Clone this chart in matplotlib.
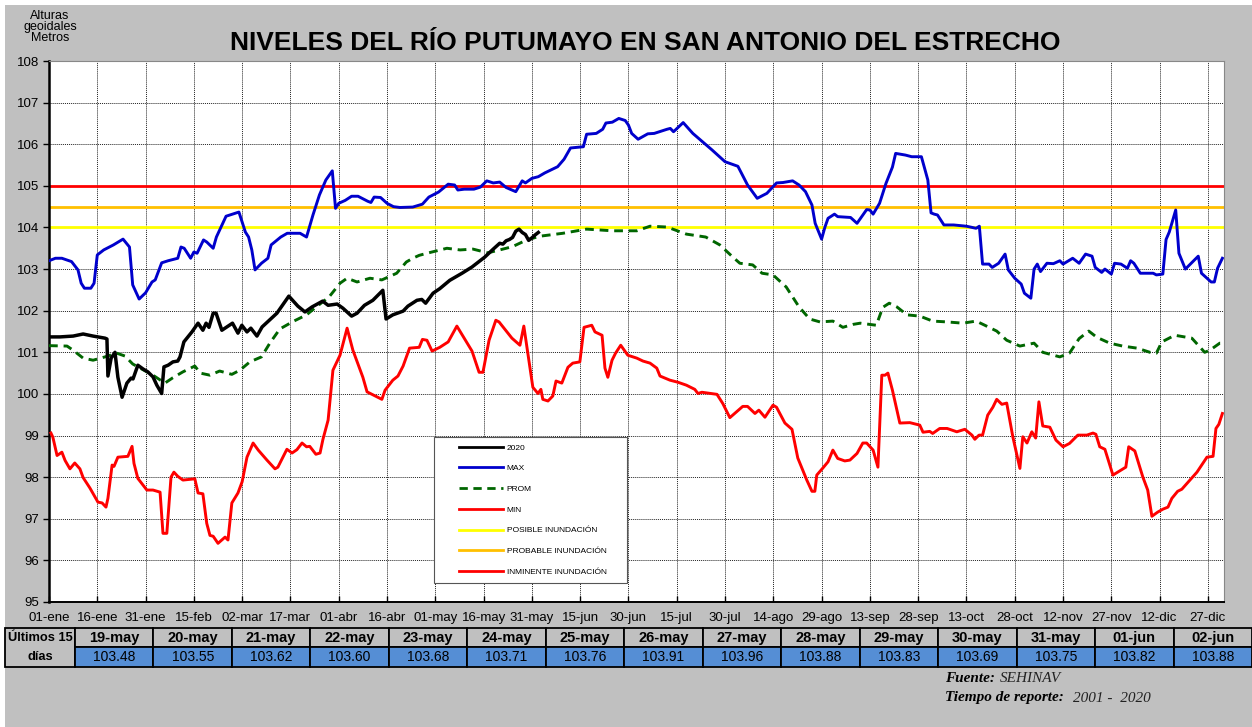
import matplotlib
matplotlib.use("Agg")
import matplotlib.pyplot as plt
from matplotlib.patches import Rectangle
from matplotlib.lines import Line2D

plt.rcParams['font.family'] = ['Liberation Sans', 'DejaVu Sans']

# --- datos (dia del año, 0 = 01-ene) ---
dias_2020 = [0, 3.4, 7.5, 10.6, 13.7, 17.4, 18, 18.3, 19.3, 20.5, 21.4, 22.7, 24.2, 25.5, 26.1,
             27.6, 29.2, 30.7, 32.3, 33.5, 35, 35.7, 37, 38.5, 40, 40.7, 41.9, 44.4, 46.3, 47.8,
             48.8, 49.7, 51, 51.9, 53.7, 57, 58.7, 59.9, 61.5, 62.7, 64.6, 66.2, 70.8, 74.5, 77.3,
             79.5, 81.7, 85, 86.7, 89.5, 91.3, 94, 95.7, 98, 100.6, 103.7, 104.7, 106.8, 110, 111.5,
             114.3, 115.8, 117, 119.3, 121.4, 124.5, 128.3, 131.4, 133.9, 135.4,
             138, 139, 140, 141, 142, 143, 144, 145, 146, 147, 148, 149, 150, 151, 152]
niv_2020 = [101.37, 101.37, 101.39, 101.44, 101.39, 101.34, 101.32, 100.43, 100.86, 101.0, 100.40,
            99.92, 100.26, 100.38, 100.36, 100.69, 100.60, 100.53, 100.41, 100.21, 100.01, 100.65,
            100.69, 100.77, 100.79, 100.89, 101.25, 101.49, 101.70, 101.53, 101.70, 101.60, 101.94,
            101.94, 101.53, 101.70, 101.46, 101.65, 101.49, 101.58, 101.39, 101.61, 101.94, 102.35,
            102.11, 101.97, 102.09, 102.23, 102.13, 102.16, 102.06, 101.87, 101.94, 102.13, 102.25,
            102.49, 101.80, 101.90, 101.99, 102.11, 102.25, 102.27, 102.18, 102.42, 102.53, 102.73,
            102.90, 103.05, 103.20, 103.29,
            103.48, 103.55, 103.62, 103.60, 103.68, 103.71, 103.76, 103.91, 103.96, 103.88, 103.83,
            103.69, 103.75, 103.82, 103.88]

dias_max = [0, 2, 4, 7, 9, 10, 11, 13, 14, 15, 17, 20, 23, 25, 26, 28, 30, 32, 33, 35, 37, 40, 41,
            42, 44, 45, 46, 48, 49, 51, 52, 55, 59, 61, 62, 63, 64, 66, 68, 69, 72, 74, 78, 80, 82,
            83, 84, 86, 88, 89, 90, 92, 94, 96, 99, 100, 101, 103, 105, 107, 109, 113, 116, 118,
            121, 124, 126, 127, 129, 132, 134, 136, 138, 140, 142, 145, 147, 148, 150, 152, 154,
            158, 160, 162, 166, 167, 170, 172, 173, 175, 177, 179, 180, 181, 183, 186, 188, 192,
            193, 194, 197, 200, 206, 210, 214, 217, 220, 223, 226, 228, 231, 233, 235, 237, 238,
            240, 241, 242, 244, 245, 249, 251, 254, 255, 256, 258, 260, 262, 263, 266, 268, 271,
            273, 274, 275, 276, 278, 281, 285, 288, 289, 290, 292, 293, 295, 297, 298, 300, 302,
            303, 305, 306, 307, 308, 310, 312, 314, 315, 318, 320, 322, 324, 325, 327, 328, 330,
            331, 333, 335, 336, 337, 339, 343, 344, 346, 347, 348, 350, 351, 353, 357, 358, 361,
            362, 363, 364.5]
niv_max = [103.20, 103.26, 103.26, 103.18, 102.98, 102.66, 102.54, 102.54, 102.66, 103.34, 103.46,
           103.58, 103.72, 103.53, 102.62, 102.28, 102.43, 102.69, 102.74, 103.15, 103.20, 103.26,
           103.53, 103.50, 103.26, 103.41, 103.38, 103.70, 103.65, 103.50, 103.77, 104.27, 104.37,
           103.89, 103.77, 103.46, 102.98, 103.14, 103.26, 103.58, 103.77, 103.86, 103.86, 103.77,
           104.30, 104.54, 104.78, 105.14, 105.36, 104.46, 104.58, 104.65, 104.75, 104.75, 104.63,
           104.60, 104.73, 104.72, 104.58, 104.50, 104.48, 104.49, 104.56, 104.73, 104.85, 105.04,
           105.02, 104.90, 104.92, 104.92, 104.97, 105.12, 105.07, 105.09, 104.96, 104.86, 105.12,
           105.07, 105.18, 105.22, 105.31, 105.46, 105.64, 105.91, 105.94, 106.24, 106.26, 106.36,
           106.51, 106.53, 106.62, 106.57, 106.46, 106.26, 106.12, 106.25, 106.26, 106.36, 106.38,
           106.30, 106.52, 106.26, 105.86, 105.58, 105.47, 105.02, 104.70, 104.82, 105.07, 105.08,
           105.12, 105.02, 104.86, 104.54, 104.10, 103.72, 104.00, 104.22, 104.32, 104.26, 104.24,
           104.10, 104.43, 104.42, 104.32, 104.58, 105.06, 105.45, 105.78, 105.74, 105.70, 105.70,
           105.14, 104.35, 104.32, 104.30, 104.06, 104.06, 104.03, 103.98, 104.03, 103.12, 103.12,
           103.04, 103.14, 103.36, 102.98, 102.78, 102.64, 102.42, 102.30, 103.00, 103.12, 102.94,
           103.14, 103.13, 103.20, 103.12, 103.26, 103.14, 103.36, 103.31, 103.04, 102.92, 103.00,
           102.88, 103.14, 103.12, 103.02, 103.20, 103.14, 102.90, 102.90, 102.86, 102.88, 103.71,
           103.89, 104.42, 103.38, 103.00, 103.31, 102.90, 102.69, 102.69, 103.02, 103.26]

dias_prom = [0, 5.6, 7.5, 10.6, 13.7, 17.4, 21, 23.6, 26, 29, 32.3, 36, 38.5, 41.6, 45.3, 47, 50,
             53, 56.8, 59.3, 62.4, 66, 68.6, 71.7, 75.8, 80, 83, 87, 90.4, 92.6, 95.7, 99.7, 103.4,
             108, 111, 113, 115, 117.4, 123.6, 127.7, 131.7, 136.3, 140, 144, 148.4, 152.5, 159.6,
             167, 175, 182.6, 186.7, 192, 198, 204, 208.4, 212.4, 214.6, 218.6, 221.5, 224.9, 229,
             233, 236.3, 239.5, 243.5, 246.6, 249.7, 252, 255, 257, 259, 261, 263.4, 266.5, 270.5,
             274.5, 279, 283.9, 288, 290.7, 294.4, 297.5, 301.6, 306, 308.7, 314, 317, 320, 323,
             325.5, 329.5, 333.5, 338, 342, 344, 345.7, 349.7, 355, 359, 360.6, 363.7, 364.5]
niv_prom = [101.16, 101.15, 101.05, 100.86, 100.81, 100.89, 100.98, 100.91, 100.72, 100.59, 100.45,
            100.26, 100.39, 100.53, 100.67, 100.50, 100.45, 100.55, 100.47, 100.57, 100.77, 100.89,
            101.22, 101.56, 101.74, 101.90, 102.09, 102.33, 102.66, 102.78, 102.69, 102.78, 102.74,
            102.90, 103.17, 103.26, 103.33, 103.38, 103.50, 103.46, 103.48, 103.39, 103.46, 103.54,
            103.70, 103.79, 103.86, 103.96, 103.92, 103.92, 104.03, 104.01, 103.84, 103.77, 103.58,
            103.29, 103.14, 103.10, 102.90, 102.86, 102.57, 102.09, 101.80, 101.73, 101.75, 101.60,
            101.67, 101.70, 101.67, 101.65, 102.08, 102.18, 102.09, 101.90, 101.87, 101.75, 101.73,
            101.70, 101.75, 101.65, 101.51, 101.29, 101.15, 101.22, 101.00, 100.89, 100.98, 101.33,
            101.51, 101.36, 101.22, 101.15, 101.10, 101.00, 100.98, 101.25, 101.41, 101.34, 101.00,
            101.05, 101.22, 101.22]

dias_min = [0.6, 1.2, 2.5, 4, 5, 6.5, 8, 9.6, 10.6, 12.7, 15.2, 16.5, 17.7, 18.3, 19.6, 20.2, 21.4,
            24.5, 25.8, 26.4, 27.6, 30.4, 32.3, 34.5, 35.4, 36.6, 37.9, 38.8, 40, 41.6, 45.3, 46.3,
            47.8, 49, 50, 51, 52.5, 54.7, 55.6, 56.8, 58.7, 60, 61.5, 63.4, 65, 67.7, 70.2, 71.1,
            73.9, 75.5, 77, 78.6, 80, 81, 82.9, 84.2, 85.1, 86.7, 88.2, 90.4, 92.6, 94.4, 97.5,
            98.8, 103.4, 104.4, 106.8, 108.4, 110, 112, 115, 116, 117.4, 119, 121.4, 124, 126.7,
            131.4, 133.6, 134.8, 136.7, 138.8, 139.8, 143.8, 146.3, 147.5, 150.3, 151.9, 152.8,
            153.4, 155, 156.5, 157.5, 159.3, 161.2, 162.7, 164.9, 166.2, 168.6, 169.6, 171.8, 172.7,
            173.6, 174.9, 176, 177.6, 179.8, 182.6, 184.5, 186.7, 188.8, 189.8, 192.9, 195.4, 198,
            200.6, 201.6, 202.8, 207.5, 209.3, 211.5, 215.5, 217, 219.3, 220.5, 222.4, 224.9, 226,
            228.6, 230.8, 232.6, 235.4, 237, 237.9, 238.5, 240.4, 242, 243.5, 245, 247.2, 248.8,
            251, 252.8, 254, 256, 257.5, 258.7, 259.7, 260.6, 262, 264.3, 267.4, 270.5, 271.5,
            273.6, 274.5, 276.7, 279, 282, 284.5, 286.7, 287.6, 288.9, 290, 291.6, 293.2, 294.4,
            296, 297.5, 299.4, 301.6, 302.5, 303.8, 305.3, 306.5, 307.5, 308.7, 310.9, 312.8, 315,
            317, 319.6, 322.4, 324.3, 325.2, 326.4, 328, 330.5, 334.5, 335.4, 337.3, 339.8, 341.3,
            342.6, 344.4, 346, 347.6, 348.8, 350.6, 351.9, 354.4, 356.6, 359.7, 361.6, 362.5, 363.4,
            364.5]
niv_min = [99.06, 98.96, 98.52, 98.60, 98.40, 98.20, 98.34, 98.20, 97.99, 97.74, 97.40, 97.38,
           97.28, 97.49, 98.29, 98.26, 98.48, 98.50, 98.74, 98.33, 97.97, 97.69, 97.69, 97.64, 96.65,
           96.65, 98.00, 98.12, 98.02, 97.93, 97.96, 97.62, 97.60, 96.89, 96.60, 96.58, 96.41, 96.56,
           96.49, 97.38, 97.62, 97.89, 98.48, 98.82, 98.65, 98.41, 98.20, 98.24, 98.67, 98.58, 98.66,
           98.82, 98.73, 98.74, 98.55, 98.58, 98.91, 99.37, 100.57, 100.93, 101.58, 101.05, 100.40,
           100.05, 99.87, 100.09, 100.33, 100.43, 100.67, 101.10, 101.12, 101.31, 101.29, 101.03,
           101.12, 101.25, 101.63, 101.03, 100.52, 100.52, 101.29, 101.77, 101.73, 101.34, 101.17,
           101.63, 100.16, 100.01, 100.11, 99.87, 99.83, 99.95, 100.31, 100.26, 100.64, 100.74,
           100.77, 101.60, 101.65, 101.49, 101.41, 100.62, 100.40, 100.81, 100.98, 101.17, 100.93,
           100.86, 100.79, 100.74, 100.62, 100.43, 100.33, 100.28, 100.21, 100.11, 100.01, 100.04,
           99.99, 99.77, 99.43, 99.70, 99.70, 99.53, 99.61, 99.44, 99.73, 99.68, 99.30, 99.15, 98.46,
           97.93, 97.66, 97.66, 98.05, 98.22, 98.37, 98.65, 98.45, 98.39, 98.41, 98.57, 98.82, 98.82,
           98.65, 98.24, 100.45, 100.45, 100.50, 100.09, 99.30, 99.31, 99.25, 99.08, 99.10, 99.05,
           99.17, 99.17, 99.09, 99.15, 99.01, 98.91, 99.01, 99.01, 99.49, 99.68, 99.87, 99.75, 99.78,
           98.97, 98.21, 98.97, 98.82, 99.09, 98.94, 99.81, 99.23, 99.20, 98.89, 98.73, 98.81, 99.01,
           99.01, 99.06, 99.03, 98.73, 98.67, 98.05, 98.24, 98.73, 98.63, 98.00, 97.69, 97.06, 97.16,
           97.23, 97.28, 97.49, 97.66, 97.71, 97.93, 98.12, 98.48, 98.50, 99.17, 99.27, 99.53]

nivel_posible = 104.0
nivel_probable = 104.5
nivel_inminente = 105.0

etiquetas_x = ['01-ene', '16-ene', '31-ene', '15-feb', '02-mar', '17-mar', '01-abr', '16-abr',
               '01-may', '16-may', '31-may', '15-jun', '30-jun', '15-jul', '30-jul', '14-ago',
               '29-ago', '13-sep', '28-sep', '13-oct', '28-oct', '12-nov', '27-nov', '12-dic',
               '27-dic']

ultimos_fechas = ['19-may', '20-may', '21-may', '22-may', '23-may', '24-may', '25-may', '26-may',
                  '27-may', '28-may', '29-may', '30-may', '31-may', '01-jun', '02-jun']
ultimos_valores = [103.48, 103.55, 103.62, 103.60, 103.68, 103.71, 103.76, 103.91, 103.96,
                   103.88, 103.83, 103.69, 103.75, 103.82, 103.88]

# --- figura ---
W, H = 1252, 727
fig = plt.figure(figsize=(W / 100, H / 100), dpi=100, facecolor='white')


def fx(px):
    return px / W


def fy(py):
    return 1 - py / H


fondo = Rectangle((fx(5), 0), 1 - fx(5), fy(5), transform=fig.transFigure,
                  facecolor='#C0C0C0', edgecolor='none', zorder=-10)
fig.patches.append(fondo)

ax = fig.add_axes([fx(49), fy(602), fx(1224) - fx(49), fy(61) - fy(602)])
ax.set_facecolor('white')

ax.axhline(nivel_posible, color='#FFFF00', lw=2.0, zorder=2)
ax.axhline(nivel_probable, color='#FFC000', lw=2.0, zorder=2)
ax.axhline(nivel_inminente, color='#FF0000', lw=2.0, zorder=2)

ax.plot(dias_max, niv_max, color='#0000CC', lw=2.1, zorder=3)
ax.plot(dias_prom, niv_prom, color='#006600', lw=2.1, ls=(0, (3, 2)), zorder=3)
ax.plot(dias_min, niv_min, color='#FF0000', lw=2.1, zorder=3)
ax.plot(dias_2020, niv_2020, color='black', lw=2.5, zorder=4)

ax.set_xlim(0, 365)
ax.set_ylim(95, 108)
ax.set_xticks(range(0, 361, 15))
ax.set_xticklabels(etiquetas_x, fontsize=9.5)
ax.set_yticks(range(95, 109))
ax.tick_params(axis='y', labelsize=9.5, direction='out', length=4, width=1, pad=3)
ax.tick_params(axis='x', direction='in', length=4, width=1, pad=7)
ax.grid(True, color='#222222', ls=(0, (1, 1)), lw=0.7)
ax.set_axisbelow(True)
ax.spines['left'].set_linewidth(1.8)
ax.spines['bottom'].set_linewidth(1.4)
ax.spines['top'].set_color('#888888')
ax.spines['right'].set_color('#888888')

# marco de la leyenda
marco = Rectangle((fx(434), fy(583)), fx(627) - fx(434), fy(437) - fy(583),
                  transform=fig.transFigure, facecolor='white', edgecolor='#555555',
                  lw=0.8, zorder=5)
ax.add_patch(marco)

handles = [
    Line2D([], [], color='black', lw=2),
    Line2D([], [], color='#0000CC', lw=2),
    Line2D([], [], color='#006600', lw=2, ls=(0, (3, 2))),
    Line2D([], [], color='#FF0000', lw=2),
    Line2D([], [], color='#FFFF00', lw=2),
    Line2D([], [], color='#FFC000', lw=2),
    Line2D([], [], color='#FF0000', lw=2),
]
labels = ['2020', 'MAX', 'PROM', 'MIN', 'POSIBLE INUNDACIÓN', 'PROBABLE INUNDACIÓN',
          'INMINENTE INUNDACIÓN']
leg = ax.legend(handles, labels, loc='upper left', bbox_to_anchor=(fx(452), fy(437)),
                bbox_transform=fig.transFigure, fontsize=6, frameon=False,
                labelspacing=1.55, handlelength=5.3, handletextpad=0.45, borderpad=0.8,
                borderaxespad=0)
leg.set_zorder(6)

fig.text(fx(645), fy(43), 'NIVELES DEL RÍO PUTUMAYO EN SAN ANTONIO DEL ESTRECHO',
         ha='center', va='center', fontsize=19, fontweight='bold')
fig.text(fx(50), fy(27), 'Alturas\ngeoidales\nMetros', ha='center', va='center',
         fontsize=9, linespacing=0.85)

# --- tabla de los ultimos 15 dias ---
t_top, t_mid, t_bot = 628, 647, 667
x0, x1 = 5, 75
col_w = (W - x1) / len(ultimos_fechas)


def rect(xa, ya, xb, yb, fc):
    fig.patches.append(Rectangle((fx(xa), fy(yb)), fx(xb) - fx(xa), fy(ya) - fy(yb),
                                 transform=fig.transFigure, facecolor=fc,
                                 edgecolor='black', lw=1.3, zorder=2))


rect(x0, t_top, x1, t_bot, '#C0C0C0')
fig.text(fx((x0 + x1) / 2), fy(t_top + 10), 'Últimos 15', ha='center', va='center',
         fontsize=9.3, fontweight='bold')
fig.text(fx((x0 + x1) / 2), fy(t_mid + 10), 'días', ha='center', va='center',
         fontsize=9.3, fontweight='bold')
for i, (fecha, valor) in enumerate(zip(ultimos_fechas, ultimos_valores)):
    xa = x1 + i * col_w
    xb = xa + col_w
    rect(xa, t_top, xb, t_mid, '#C0C0C0')
    rect(xa, t_mid, xb, t_bot, '#558ED5')
    fig.text(fx((xa + xb) / 2), fy(t_top + 10), fecha, ha='center', va='center',
             fontsize=10.5, fontweight='bold')
    fig.text(fx((xa + xb) / 2), fy(t_mid + 10), f'{valor:.2f}', ha='center', va='center',
             fontsize=10)

# --- pie ---
serif = ['Liberation Serif', 'DejaVu Serif']
fig.text(fx(945), fy(678), 'Fuente:', ha='left', va='center', fontsize=11,
         family=serif, fontweight='bold', style='italic')
fig.text(fx(1000), fy(678), 'SEHINAV', ha='left', va='center', fontsize=11,
         family=serif, style='italic', color='#222222')
fig.text(fx(945), fy(698), 'Tiempo de reporte:', ha='left', va='center', fontsize=11,
         family=serif, fontweight='bold', style='italic')
fig.text(fx(1073), fy(698), '2001 -  2020', ha='left', va='center', fontsize=11,
         family=serif, style='italic', color='#222222')

fig.savefig('out.png', dpi=100, facecolor=fig.get_facecolor())
